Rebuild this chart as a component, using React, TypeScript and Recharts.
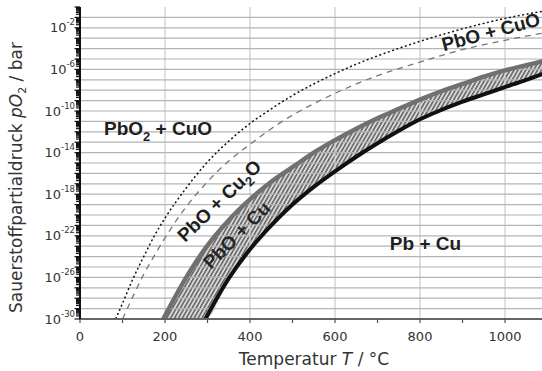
import React from 'react';
import { ComposedChart, Area, Line, XAxis, YAxis, ReferenceLine, ReferenceDot } from 'recharts';

// Temperature in °C ; oxygen partial pressure as log10(pO2 / bar)
const bandT = [196, 250, 295, 350, 400, 450, 500, 550, 600, 650, 700, 750, 800, 850, 900, 950, 1000, 1050, 1090];
const cu2oCuLog = [-30, -26.0, -23.2, -20.5, -18.5, -16.8, -15.4, -14.0, -12.8, -11.7, -10.7, -9.8, -8.9, -8.1, -7.4, -6.7, -6.1, -5.6, -5.2];

const pboPbT = [295, 350, 400, 450, 500, 550, 600, 650, 700, 750, 800, 850, 900, 950, 1000, 1050, 1090];
const pboPbLog = [-30, -26.1, -23.3, -21.0, -19.0, -17.3, -15.8, -14.4, -13.1, -11.9, -10.8, -9.9, -9.1, -8.4, -7.7, -7.0, -6.4];

const pbo2T = [84, 100, 125, 150, 175, 200, 250, 300, 350, 400, 450, 500, 550, 600, 650, 700, 800, 900, 1000, 1090];
const pbo2Log = [-30, -28.5, -26.1, -24.0, -22.0, -20.3, -17.4, -14.9, -12.9, -11.2, -9.8, -8.5, -7.4, -6.4, -5.5, -4.7, -3.3, -2.1, -1.1, -0.4];

const cuoT = [100, 125, 150, 175, 200, 250, 300, 350, 400, 450, 500, 550, 600, 650, 700, 800, 900, 1000, 1090];
const cuoLog = [-30, -27.8, -25.7, -23.9, -22.2, -19.2, -16.8, -14.8, -13.2, -11.7, -10.4, -9.3, -8.3, -7.4, -6.6, -5.3, -4.1, -3.2, -2.5];

const Y_MIN = -30;
const Y_MAX = 0;
const X_MAX = 1087;
const yLabelExps = [-30, -26, -22, -18, -14, -10, -6, -2];
const xTickVals = [0, 100, 200, 300, 400, 500, 600, 700, 800, 900, 1000];
const xLabelVals = [0, 200, 400, 600, 800, 1000];
const gridX = [200, 400, 600, 800, 1000];

const yTicks: number[] = [];
for (let n = Y_MIN; n < Y_MAX; n++) {
  for (let k = 1; k <= 9; k++) yTicks.push(n + Math.log10(k));
}
yTicks.push(Y_MAX);
const gridY: number[] = [];
for (let n = Y_MIN + 1; n < Y_MAX; n++) gridY.push(n);

const bandData = bandT.map((t, i) => {
  const j = pboPbT.indexOf(t);
  return { t, band: [j >= 0 ? pboPbLog[j] : Y_MIN, cu2oCuLog[i]] };
});
const pboPbData = pboPbT.map((t, i) => ({ t, v: pboPbLog[i] }));
const cu2oData = bandT.map((t, i) => ({ t, v: cu2oCuLog[i] }));
const pbo2Data = pbo2T.map((t, i) => ({ t, v: pbo2Log[i] }));
const cuoData = cuoT.map((t, i) => ({ t, v: cuoLog[i] }));

const AX_FONT = "'DejaVu Sans', Verdana, sans-serif";
const LB_FONT = "'Liberation Sans', Arial, sans-serif";
const GRID = '#b4b4b4';

const YTick = (props: any) => {
  const { x, y, payload } = props;
  const v = payload.value as number;
  const exp = Math.round(v);
  const isMajor = Math.abs(v - exp) < 1e-6;
  const showLabel = isMajor && yLabelExps.includes(exp);
  return (
    <g>
      <line x1={x - (isMajor ? 5.5 : 4)} x2={x} y1={y} y2={y} stroke="#111" strokeWidth={1.2} />
      {showLabel && (
        <text x={x - 5} y={y + 4.5} textAnchor="end" fontFamily={AX_FONT} fontSize={13} fill="#333">
          10<tspan dy={-7} fontSize={8.5}>{String(exp)}</tspan>
        </text>
      )}
    </g>
  );
};

const XTick = (props: any) => {
  const { x, y, payload } = props;
  const v = payload.value as number;
  return (
    <g>
      <line x1={x} x2={x} y1={y} y2={y + 4} stroke="#555" strokeWidth={1.2} />
      {xLabelVals.includes(v) && (
        <text x={x} y={y + 22} textAnchor="middle" fontFamily={AX_FONT} fontSize={13} fill="#333">
          {v}
        </text>
      )}
    </g>
  );
};

const regionLabel = (content: React.ReactNode, angle: number, fill = '#1e1e1e') => (p: any) => (
  <text
    x={p.cx}
    y={p.cy}
    transform={angle ? `rotate(${angle} ${p.cx} ${p.cy})` : undefined}
    fontFamily={LB_FONT}
    fontWeight="bold"
    fontSize={19}
    fill={fill}
    style={{ whiteSpace: 'pre' }}
  >
    {content}
  </text>
);

const YTitle = () => {
  const cx = 21.5;
  const cy = 177.5;
  return (
    <text
      x={cx}
      y={cy}
      transform={`rotate(-90 ${cx} ${cy})`}
      textAnchor="middle"
      fontFamily={AX_FONT}
      fontSize={17}
      fill="#333"
      style={{ whiteSpace: 'pre' }}
    >
      Sauerstoffpartialdruck <tspan fontStyle="italic">pO</tspan>
      <tspan dy={4} fontSize={11}>2</tspan>
      <tspan dy={-4}> / bar</tspan>
    </text>
  );
};

const XTitle = () => (
  <text x={314} y={365} textAnchor="middle" fontFamily={AX_FONT} fontSize={17} fill="#333" style={{ whiteSpace: 'pre' }}>
    Temperatur <tspan fontStyle="italic">T</tspan> / °C
  </text>
);

export default function App() {
  return (
    <div style={{ position: 'absolute', left: 0, top: 0, width: 542, height: 371, background: '#fff' }}>
      <ComposedChart width={542} height={371} data={bandData} margin={{ top: 7, right: 0, bottom: 0, left: 0 }}>
        <defs>
          <pattern id="hatch" patternUnits="userSpaceOnUse" width={3.4} height={3.4} patternTransform="rotate(30)">
            <rect x={0} y={0} width={3.4} height={3.4} fill="#dadada" />
            <line x1={0.8} y1={0} x2={0.8} y2={3.4} stroke="#222" strokeWidth={1} />
          </pattern>
        </defs>
        {gridX.map((g) => (
          <ReferenceLine key={'gx' + g} x={g} stroke="#cfcfcf" strokeWidth={1.3} />
        ))}
        {gridY.map((g) => (
          <Line
            key={'gy' + g}
            data={[{ t: 0, v: g }, { t: X_MAX, v: g }]}
            dataKey="v"
            type="linear"
            stroke={GRID}
            strokeWidth={1.2}
            dot={false}
            activeDot={false}
            legendType="none"
            isAnimationActive={false}
          />
        ))}
        <XAxis
          type="number"
          dataKey="t"
          domain={[0, X_MAX]}
          allowDataOverflow
          ticks={xTickVals}
          interval={0}
          height={52}
          tickSize={0}
          tickMargin={0}
          tickLine={false}
          tick={<XTick />}
          axisLine={{ stroke: '#666', strokeWidth: 2 }}
          label={<XTitle />}
        />
        <YAxis
          type="number"
          domain={[Y_MIN, Y_MAX]}
          allowDataOverflow
          ticks={yTicks}
          interval={0}
          width={80}
          tickSize={0}
          tickMargin={0}
          tickLine={false}
          tick={<YTick />}
          axisLine={{ stroke: '#111', strokeWidth: 2 }}
          label={<YTitle />}
        />
        <Area
          dataKey="band"
          type="monotone"
          fill="url(#hatch)"
          fillOpacity={1}
          stroke="none"
          isAnimationActive={false}
          dot={false}
          activeDot={false}
        />
        <Line data={cu2oData} dataKey="v" type="monotone" stroke="#707070" strokeWidth={4.5} dot={false} activeDot={false} isAnimationActive={false} />
        <Line data={pboPbData} dataKey="v" type="monotone" stroke="#111" strokeWidth={4} dot={false} activeDot={false} isAnimationActive={false} />
        <Line data={pbo2Data} dataKey="v" type="monotone" stroke="#111" strokeWidth={1.5} strokeDasharray="2 2.5" dot={false} activeDot={false} isAnimationActive={false} />
        <Line data={cuoData} dataKey="v" type="monotone" stroke="#777" strokeWidth={1.3} strokeDasharray="6 5" dot={false} activeDot={false} isAnimationActive={false} />
        <ReferenceDot x={56.5} y={-12.3} r={0} shape={regionLabel(<>PbO<tspan dy={6} fontSize={13}>2</tspan><tspan dy={-6}> + CuO</tspan></>, 0)} />
        <ReferenceDot x={856} y={-4.25} r={0} shape={regionLabel(<>PbO + CuO</>, -15)} />
        <ReferenceDot x={247} y={-22.7} r={0} shape={regionLabel(<>PbO + Cu<tspan dy={5} fontSize={13}>2</tspan><tspan dy={-5}>O</tspan></>, -44)} />
        <ReferenceDot x={308} y={-25.3} r={0} shape={regionLabel(<>PbO + Cu</>, -45, '#262626')} />
        <ReferenceDot x={729} y={-23.4} r={0} shape={regionLabel(<>Pb + Cu</>, 0)} />
      </ComposedChart>
    </div>
  );
}
